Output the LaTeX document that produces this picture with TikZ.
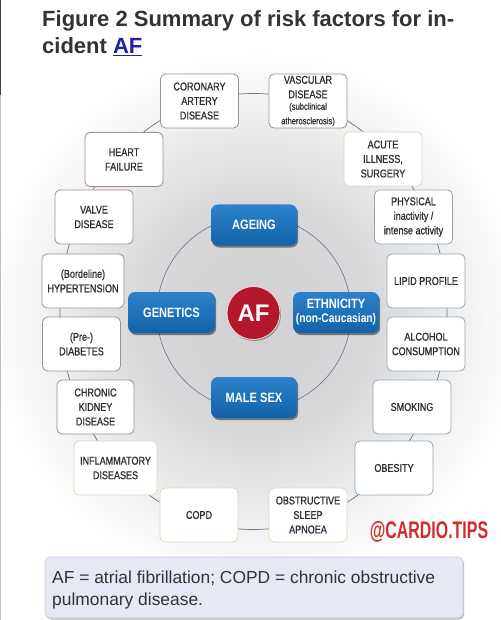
\documentclass[tikz,border=0pt]{standalone}
\usepackage{fontspec}
\usepackage{graphicx}
\setmainfont{Liberation Sans}
\newfontfamily\narrow{Liberation Sans}[FakeStretch=0.82]
\newfontfamily\boxfont{Liberation Sans}[FakeStretch=0.8, FakeBold=0.8]
\usetikzlibrary{shapes.geometric,shadows}
\definecolor{txt}{HTML}{2E2E2E}
\definecolor{mauve}{HTML}{A48C94}
\definecolor{cream}{HTML}{E3D6B2}
\definecolor{bluegray}{HTML}{8EA8BA}
\definecolor{ringc}{HTML}{6B7580}
\definecolor{btop}{HTML}{2C82CB}
\definecolor{bbot}{HTML}{1262A8}
\definecolor{afred}{HTML}{B3172C}
\definecolor{tipsred}{HTML}{D42B2B}
\definecolor{titlec}{HTML}{333333}
\definecolor{linkc}{HTML}{2020A8}
\definecolor{capfill}{HTML}{E6E8F6}
\definecolor{capdraw}{HTML}{C9CBDA}
\definecolor{bgin}{HTML}{D0D0D3}
\definecolor{bgmid}{HTML}{D8D8DA}
\pgfdeclareradialshading{bgshade}{\pgfpoint{0bp}{0bp}}{color(0bp)=(bgin); color(11bp)=(bgmid); color(25bp)=(white); color(50bp)=(white)}
\newcommand\smalltx{\fontsize{9.5}{10.5}\selectfont}
\begin{document}
\begin{tikzpicture}[x=1pt,y=-1pt,
  rf/.style={draw, rounded corners=5pt, fill=white, line width=0.8pt,
    minimum width=78pt, minimum height=54pt, inner sep=1pt, align=center,
    text=txt, font=\boxfont\fontsize{11.3}{14.5}\selectfont},
  rfm/.style={rf, draw=mauve},
  rfc/.style={rf, draw=cream},
  rfb/.style={rf, draw=bluegray},
  bluebox/.style={rounded corners=7pt, top color=btop, bottom color=bbot,
    minimum width=86pt, minimum height=41pt, inner sep=1pt, text=white, align=center,
    font=\narrow\bfseries\fontsize{13.5}{14}\selectfont,
    drop shadow={shadow xshift=1.2pt, shadow yshift=-2pt, opacity=0.45, fill=black}},
  ring/.style={draw=ringc, line width=0.7pt, inner sep=0pt}
]
\useasboundingbox (0,0) rectangle (500,620);
\fill[white] (0,0) rectangle (500,620);
% background shading
\shade[shading=bgshade] (256,318) circle (265);
% left edge artefact
\draw[line width=2pt, black!75] (0,0) -- (0,95);
\draw[line width=1pt, black!25] (0,95) -- (0,620);

% title
\node[anchor=base west, inner sep=0pt, text=titlec, font=\bfseries\fontsize{22}{26}\selectfont] (title1) at (42,27) {Figure 2 Summary of risk factors for in-};
\node[anchor=base west, inner sep=0pt, text=titlec, font=\bfseries\fontsize{22}{26}\selectfont] (title2) at (42,54) {cident \textcolor{linkc}{\underline{AF}}};

% rings
\node[ring, ellipse, minimum width=387pt, minimum height=436pt] (outerring) at (253.5,311.5) {};
\node[ring, circle, line width=0.6pt, minimum size=194pt] (innerring) at (254,313) {};

% outer factor boxes
\node[rfm] (cad) at (199.5,101) {CORONARY\\ARTERY\\DISEASE};
\node[rfm] (vasc) at (308,101) {VASCULAR\\DISEASE\\[-3pt]\smalltx (subclinical\\\smalltx atherosclerosis)};
\node[rfm] (hf) at (124,159.5) {HEART\\FAILURE};
\node[rfc] (acute) at (383,159) {ACUTE\\ILLNESS,\\SURGERY};
\node[rfm] (valve) at (94,217) {VALVE\\DISEASE};
\node[rfb] (phys) at (413.5,217) {PHYSICAL\\inactivity /\\intense activity};
\node[rfm, minimum width=82pt] (hyp) at (83,281) {(Bordeline)\\HYPERTENSION};
\node[rfb] (lipid) at (426,281) {LIPID PROFILE};
\node[rfm] (diab) at (81.5,344) {(Pre-)\\DIABETES};
\node[rfb] (alc) at (426,344) {ALCOHOL\\CONSUMPTION};
\node[rfm, minimum width=77pt] (ckd) at (95.5,407) {CHRONIC\\KIDNEY\\DISEASE};
\node[rfb] (smok) at (412,407) {SMOKING};
\node[rfc, minimum width=83pt] (infl) at (115.5,468) {INFLAMMATORY\\DISEASES};
\node[rfb] (obes) at (394,468) {OBESITY};
\node[rfc] (copd) at (199,515) {COPD};
\node[rfc] (osa) at (308,515) {OBSTRUCTIVE\\SLEEP\\APNOEA};

% inner blue boxes
\node[bluebox] (ageing) at (254,225) {AGEING};
\node[bluebox, minimum width=87pt] (genetics) at (171.5,312.5) {GENETICS};
\node[bluebox] (ethnicity) at (336,312.5) {ETHNICITY\\\fontsize{12.5}{13}\selectfont (non-Caucasian)};
\node[bluebox] (male) at (254,397.5) {MALE SEX};

% AF circle
\node[circle, fill=afred, draw=white!85!afred, line width=0.8pt, minimum size=53pt, inner sep=0pt,
  text=white, font=\bfseries\fontsize{24}{24}\selectfont,
  drop shadow={shadow xshift=1pt, shadow yshift=-1.5pt, opacity=0.35, fill=black}] (af) at (253.5,313) {AF};

% watermark
\node[inner sep=0pt, text=tipsred, font=\narrow\bfseries\fontsize{24}{24}\selectfont] (tips) at (429,532) {\scalebox{0.81}[1]{@CARDIO.TIPS}};

% caption
\node[draw=capdraw, fill=capfill, rounded corners=5pt, line width=0.6pt, minimum width=418pt, minimum height=61pt,
  drop shadow={shadow xshift=1.2pt, shadow yshift=-1.5pt, opacity=0.25, fill=black}] (capbox) at (254,587.5) {};
\node[anchor=base west, inner sep=0pt, text=titlec, font=\fontsize{17.4}{22}\selectfont] (cap1) at (52,583) {AF = atrial fibrillation; COPD = chronic obstructive};
\node[anchor=base west, inner sep=0pt, text=titlec, font=\fontsize{17.4}{22}\selectfont] (cap2) at (52,605) {pulmonary disease.};
\end{tikzpicture}
\end{document}
